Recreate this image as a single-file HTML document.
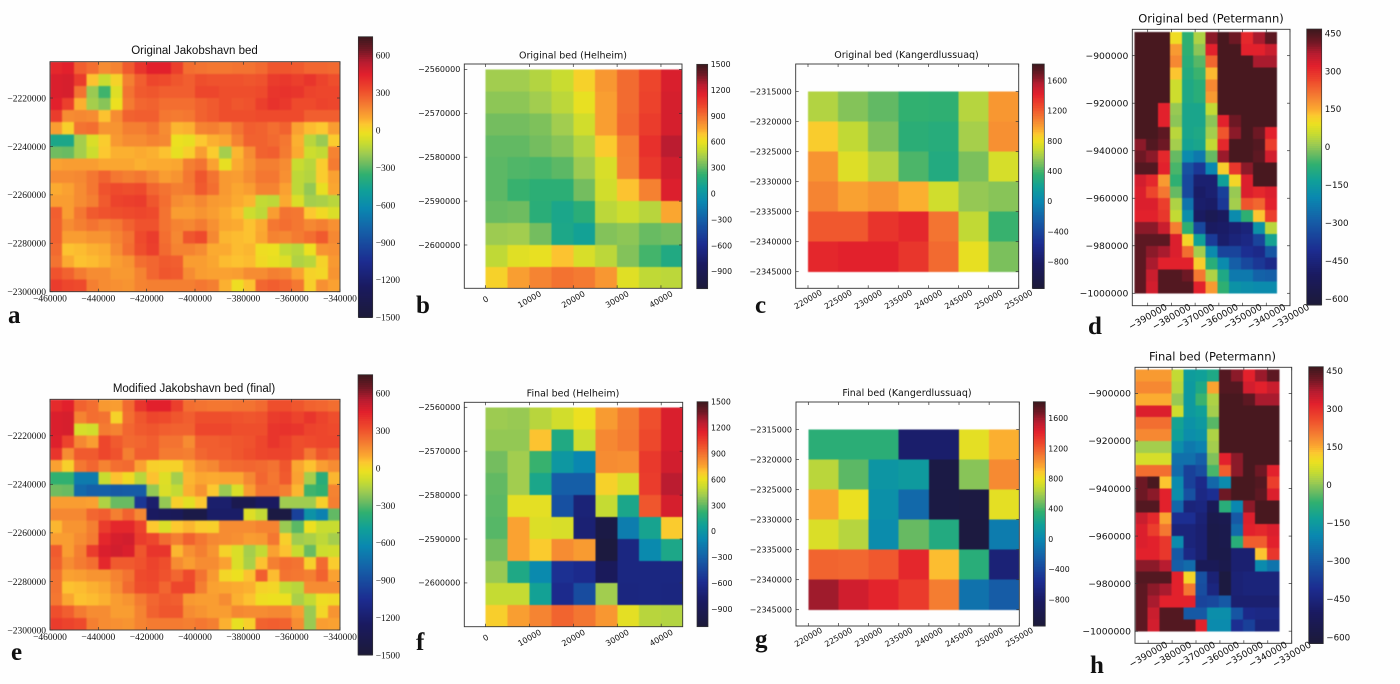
<!DOCTYPE html>
<html>
<head>
<meta charset="utf-8">
<title>Greenland bed topography panels</title>
<style>
html,body{margin:0;padding:0;background:#fff;}
svg{display:block;}
.ser{font-family:"Liberation Serif",serif;fill:#111;}
.san{font-family:"Liberation Sans",sans-serif;fill:#111;}
.dj{font-family:"DejaVu Sans",sans-serif;fill:#111;}
.let{font-family:"Liberation Serif",serif;font-weight:bold;font-size:25px;fill:#111;}
</style>
</head>
<body>
<svg id="fig" xmlns="http://www.w3.org/2000/svg" width="1400" height="684" viewBox="0 0 1400 684">
<defs>
<filter id="soft-strong" x="-5%" y="-5%" width="110%" height="110%" color-interpolation-filters="sRGB"><feGaussianBlur stdDeviation="0.8"/></filter>
<filter id="soft-light" x="-5%" y="-5%" width="110%" height="110%" color-interpolation-filters="sRGB"><feGaussianBlur stdDeviation="0.45"/></filter>
</defs>
<rect x="0" y="0" width="1400" height="684" fill="#fefefe"/>
<text class="san" font-size="11.5" text-anchor="middle" x="194.5" y="54">Original Jakobshavn bed</text>
<text class="san" font-size="11.5" text-anchor="middle" x="194" y="392">Modified Jakobshavn bed (final)</text>
<text class="dj" font-size="9.5" text-anchor="middle" x="573" y="58.5">Original bed (Helheim)</text>
<text class="dj" font-size="9.5" text-anchor="middle" x="573" y="396.5">Final bed (Helheim)</text>
<text class="dj" font-size="9.5" text-anchor="middle" x="906.5" y="58">Original bed (Kangerdlussuaq)</text>
<text class="dj" font-size="9.5" text-anchor="middle" x="907" y="396">Final bed (Kangerdlussuaq)</text>
<text class="dj" font-size="11.5" text-anchor="middle" x="1211" y="22.5">Original bed (Petermann)</text>
<text class="dj" font-size="11.5" text-anchor="middle" x="1212.5" y="360.5">Final bed (Petermann)</text>
<text class="let" x="8" y="323">a</text>
<text class="let" x="416" y="313">b</text>
<text class="let" x="755" y="313">c</text>
<text class="let" x="1088" y="334">d</text>
<text class="let" x="11" y="660">e</text>
<text class="let" x="416" y="650">f</text>
<text class="let" x="755" y="647">g</text>
<text class="let" x="1090" y="673">h</text>
</svg>
<script>
// ---- data: bed elevation in metres, one row per northing, one value per easting ----
var jakobOriginal = [
[430,450,280,240,170,190,290,390,450,450,360,240,230,220,220,230,230,250,300,300,290,260,260,250],
[470,480,370,60,-100,20,200,280,340,330,300,280,320,310,310,310,300,310,370,380,360,390,350,320],
[470,480,230,-190,-330,-50,230,290,300,280,280,280,340,340,320,320,320,330,390,400,390,350,340,340],
[450,360,90,-170,-220,-20,210,260,270,240,240,240,270,290,320,300,310,360,400,380,330,330,350,340],
[370,170,180,170,60,170,270,280,280,220,210,220,270,290,320,320,320,330,330,330,330,280,280,280],
[130,30,230,240,150,150,200,200,230,170,80,90,190,200,170,230,280,270,240,270,120,70,50,130],
[-430,-430,-170,-60,40,140,170,170,190,180,-20,-30,50,90,110,190,270,270,250,220,90,-130,-190,40],
[-260,-270,-170,-90,50,90,90,100,90,60,-30,30,130,40,-170,80,170,270,280,210,100,-90,-110,190],
[120,130,130,130,110,110,110,90,100,100,110,200,230,120,-30,100,150,200,200,170,-100,-130,40,210],
[170,170,180,220,270,220,200,220,180,130,150,220,300,230,140,130,170,220,220,160,-120,-140,40,120],
[100,120,170,220,310,330,320,330,260,230,200,210,290,240,140,110,130,190,190,120,-120,-200,-30,110],
[130,130,170,200,290,350,360,370,300,240,170,150,180,140,130,100,80,-110,-120,100,-60,-170,-160,-130],
[280,130,220,290,310,320,330,340,330,230,130,130,150,130,100,70,-90,-120,130,230,220,50,0,-60],
[270,170,200,230,200,220,270,310,310,230,190,180,210,160,110,100,60,100,220,240,220,180,200,160],
[270,130,130,150,150,190,230,330,370,240,180,300,330,180,80,70,60,110,190,180,210,240,290,180],
[250,60,70,90,100,170,240,320,360,250,190,190,170,100,100,70,80,-10,-20,-110,-130,-20,150,160],
[230,100,60,70,90,130,150,240,260,290,280,130,130,110,70,60,70,0,-30,-50,-150,-130,20,140],
[310,270,210,170,170,140,140,190,260,300,290,170,130,120,120,130,170,170,200,190,120,20,10,150],
[370,340,330,200,170,160,150,190,200,200,200,200,220,200,90,-10,60,260,280,260,220,30,160,120]
];
var jakobFinal = [
[420,450,270,240,140,130,250,390,450,450,360,240,230,220,220,230,230,250,320,320,300,270,260,240],
[470,480,190,240,230,20,240,300,340,330,300,280,320,320,320,310,300,310,370,380,350,390,350,320],
[470,480,-70,-80,210,190,260,290,300,280,270,270,340,340,340,320,320,320,390,400,390,350,340,330],
[460,350,180,130,340,290,250,260,280,230,230,170,280,280,290,300,310,340,390,360,320,330,340,340],
[390,170,290,290,340,310,200,280,280,210,210,200,260,280,280,300,320,340,350,350,320,220,300,270],
[120,30,220,260,190,240,250,120,30,20,20,100,160,180,240,250,260,250,230,300,110,60,130,170],
[-350,-350,-680,-680,-100,60,0,-130,60,-50,-170,80,110,100,110,110,180,260,220,290,120,-170,-380,80],
[-260,-270,-760,-800,-800,-830,-820,-820,-200,-60,-110,90,150,50,-190,-60,130,230,230,200,80,-330,-350,190],
[130,130,130,120,-150,-270,-270,-1000,-1200,-200,30,-40,50,-1200,-1200,-1350,-1350,-1250,-1250,-180,-180,-180,30,200],
[180,180,180,260,280,200,270,180,-1250,-1280,-1300,-1400,-1400,-1220,-1220,-1220,-50,-110,-1430,-1430,-950,-560,-650,-280],
[80,150,150,200,370,430,430,350,50,-60,50,80,40,30,170,170,170,190,190,-190,-290,-20,-100,-100],
[130,130,170,210,430,480,490,370,340,250,200,270,220,180,170,160,130,140,220,30,-180,-160,-120,-170],
[290,130,200,370,470,490,470,300,390,390,80,160,200,150,20,-60,-170,-110,120,60,-100,-270,-90,-80],
[270,170,210,240,430,290,290,310,350,320,170,130,170,170,120,-60,-160,60,200,240,230,30,250,40],
[230,120,130,150,150,190,230,330,340,310,260,330,230,140,10,-20,60,280,70,230,220,200,270,120],
[230,60,70,90,110,170,250,320,330,260,340,340,200,120,110,100,90,20,10,-110,-130,170,170,170],
[220,110,60,70,90,130,150,210,260,290,280,140,130,130,170,90,60,-10,-20,-20,-160,-110,-10,0],
[320,280,210,170,170,130,130,190,270,300,300,170,150,130,130,180,170,170,180,180,130,-190,10,150],
[370,350,330,200,170,160,150,190,210,210,210,200,220,200,90,-30,30,270,280,270,170,-190,130,120]
];
var helOriginal = [
[430,430,470,520,660,800,920,1030,1180],
[390,390,430,490,600,780,920,1040,1190],
[340,340,360,430,540,780,930,1060,1190],
[310,310,340,380,470,680,860,1100,1260],
[300,280,270,300,420,560,850,1070,1200],
[300,240,210,210,340,540,700,860,1170],
[320,330,200,130,200,490,530,480,760],
[420,430,340,140,90,370,390,320,340],
[500,580,600,700,560,490,370,260,160],
[660,780,850,900,880,800,580,500,490]
];
var helFinal = [
[420,410,480,540,610,790,870,1000,1180],
[400,400,700,160,530,840,880,1020,1180],
[340,430,240,20,-90,830,820,1070,1200],
[310,430,130,-300,-300,660,550,1060,1260],
[300,590,590,-380,-700,510,130,980,1190],
[290,770,570,560,-720,-1000,-140,110,680],
[340,770,680,830,790,-1050,-650,-70,140],
[410,150,-70,-560,-600,-850,-650,-650,-650],
[510,510,90,-600,-400,430,-660,-650,-660],
[670,780,850,940,890,800,590,480,470]
];
var kanOriginal = [
[640,530,460,370,360,650,1020],
[880,680,520,340,320,610,1040],
[1030,760,640,420,300,510,740],
[1080,990,1030,950,720,570,540],
[1220,1220,1350,1400,1130,680,380],
[1400,1420,1420,1340,1160,790,510]
];
var kanFinal = [
[340,340,340,-760,-760,780,950],
[660,450,110,150,-1040,540,1060],
[980,800,70,-170,-1050,-1070,780],
[750,650,40,470,300,-1080,-60],
[1180,1170,1220,1400,920,330,-700],
[1600,1480,1410,1320,1100,-120,-250]
];
var petOriginal = [
[455,455,455,100,-70,30,400,455,420,310,380,435],
[455,455,455,170,-70,0,320,455,455,320,320,350],
[455,455,455,190,-80,-40,230,455,455,455,380,380],
[455,455,455,130,-90,-60,140,455,455,455,455,455],
[455,455,455,60,-100,-80,190,455,455,455,455,455],
[455,455,455,60,-100,-80,170,455,455,455,455,455],
[455,455,320,10,-110,-110,50,455,455,455,455,455],
[455,455,320,0,-110,-110,0,320,420,455,455,455],
[455,455,435,40,-110,-100,20,250,400,455,420,320],
[400,445,420,20,-120,-110,50,310,455,455,445,280],
[420,400,310,-30,-190,-230,-30,390,455,455,435,340],
[445,445,320,-50,-320,-380,-200,120,290,400,455,455],
[340,310,170,-70,-340,-470,-470,-130,110,330,455,455],
[330,270,210,-30,-340,-490,-470,-360,10,330,310,330],
[330,330,280,30,-240,-480,-490,-380,20,250,230,320],
[320,320,290,50,-180,-500,-540,-510,-190,-70,130,280],
[400,400,350,200,-70,-340,-500,-490,-470,-450,-170,40],
[435,435,435,330,110,-130,-370,-480,-450,-430,-350,-120],
[435,400,380,330,220,20,-190,-350,-350,-400,-420,-310],
[435,380,320,320,320,120,-80,-190,-290,-340,-380,-420],
[435,350,445,445,420,210,30,-100,-230,-230,-280,-290],
[435,340,445,445,445,320,170,-70,-170,-180,-190,-190]
];
var petFinal = [
[170,170,170,50,-140,-130,-100,445,400,320,390,435],
[190,190,190,40,-150,-100,160,445,445,340,320,350],
[150,150,150,10,-150,-60,30,455,455,435,380,380],
[330,330,330,60,-150,-130,20,455,455,455,455,455],
[220,220,220,-120,-170,-150,-40,455,455,455,455,455],
[190,190,190,-130,-180,-170,30,455,455,455,455,455],
[20,20,20,-180,-230,-210,20,455,455,455,455,455],
[70,70,70,-250,-250,-290,-10,320,400,455,455,455],
[220,220,220,-260,-360,-330,-50,240,400,455,420,320],
[420,455,130,-190,-360,-420,-270,-190,455,455,445,280],
[420,400,320,-180,-320,-430,-400,420,455,455,435,330],
[445,445,320,-270,-450,-440,-530,-80,-200,400,455,455],
[350,310,160,-400,-400,-460,-560,-550,-300,330,455,455],
[330,280,210,-450,-450,-470,-570,-560,-260,320,310,330],
[330,320,290,-190,-450,-470,-570,-560,-80,240,240,320],
[320,320,290,-300,-430,-470,-570,-570,-470,-470,130,290],
[400,400,370,-290,-260,-530,-530,-560,-470,-470,-190,-240],
[445,445,445,320,110,-320,-460,-600,-460,-450,-450,-450],
[435,400,380,320,210,-330,-440,-600,-460,-450,-450,-450],
[435,380,320,320,320,-350,-340,-300,-470,-470,-470,-470],
[435,350,445,445,-300,-300,-180,-180,-310,-420,-430,-430],
[435,340,445,445,445,320,-190,-190,-400,-360,-450,-450]
];
// ---- tick labels ----
var jakobXTicks = [-460000,-440000,-420000,-400000,-380000,-360000,-340000];
var jakobYTicks = [-2220000,-2240000,-2260000,-2280000,-2300000];
var jakobBarTicks = [-1500,-1200,-900,-600,-300,0,300,600];
var helXTicks = [0,10000,20000,30000,40000];
var helYTicks = [-2560000,-2570000,-2580000,-2590000,-2600000];
var helBarTicks = [-900,-600,-300,0,300,600,900,1200,1500];
var kanXTicks = [220000,225000,230000,235000,240000,245000,250000,255000];
var kanYTicks = [-2315000,-2320000,-2325000,-2330000,-2335000,-2340000,-2345000];
var kanBarTicks = [-800,-400,0,400,800,1200,1600];
var petXTicks = [-390000,-380000,-370000,-360000,-350000,-340000,-330000];
var petYTicks = [-900000,-920000,-940000,-960000,-980000,-1000000];
var petBarTicks = [-600,-450,-300,-150,0,150,300,450];
// ---- colour ramp: position, rgb ----
var rampPositions = [0,.111,.2,.311,.391,.453,.511,.551,.587,.622,.658,.689,.711,.742,.778,.813,.867,.911,.956,1];
var rampColors = [[28,26,56],[26,26,96],[28,44,144],[21,96,168],[10,136,176],[16,160,152],[48,176,112],[112,188,96],[160,204,80],[200,220,48],[236,224,32],[252,200,48],[251,170,48],[246,140,50],[242,106,48],[238,74,44],[226,32,44],[184,28,48],[110,24,36],[60,24,30]];

function ramp(t){
  t = Math.max(0, Math.min(1, t));
  for (var i = 1; i < rampPositions.length; i++) {
    if (t <= rampPositions[i]) {
      var f = (t - rampPositions[i-1]) / (rampPositions[i] - rampPositions[i-1]);
      var a = rampColors[i-1], b = rampColors[i];
      return 'rgb(' + Math.round(a[0]+(b[0]-a[0])*f) + ',' + Math.round(a[1]+(b[1]-a[1])*f) + ',' + Math.round(a[2]+(b[2]-a[2])*f) + ')';
    }
  }
  return 'rgb(60,24,30)';
}
function linear(d0, d1, r0, r1){
  return function(v){ return r0 + (v - d0) * (r1 - r0) / (d1 - d0); };
}
function fmt(v){ return String(v).replace('-', '\u2212'); }

var NS = 'http://www.w3.org/2000/svg';
var fig = document.getElementById('fig');
function mk(tag, parent, attrs){
  var e = document.createElementNS(NS, tag);
  for (var k in attrs) e.setAttribute(k, attrs[k]);
  parent.appendChild(e);
  return e;
}

// layout of each panel: frame box, axis domain, cell origin and size, colourbar box and range
var panels = [
 {id:'a',grid:jakobOriginal,soft:'soft-strong',box:[50,61.7,340,291.7],dx:[-460000,-340000],dy:[-2205000,-2300000],x0:-460000,y0:-2205000,cw:5000,ch:5000,xt:jakobXTicks,yt:jakobYTicks,bar:[358.3,36.7,372.7,317.3],rng:[-1500,750],bt:jakobBarTicks,style:'ser',fs:9.5,bfs:9.5,rot:0},
 {id:'e',grid:jakobFinal,soft:'soft-strong',box:[50,399.3,340,630],dx:[-460000,-340000],dy:[-2205000,-2300000],x0:-460000,y0:-2205000,cw:5000,ch:5000,xt:jakobXTicks,yt:jakobYTicks,bar:[358,374.7,372.7,655],rng:[-1500,750],bt:jakobBarTicks,style:'ser',fs:9.5,bfs:9.5,rot:0},
 {id:'b',grid:helOriginal,soft:'soft-light',box:[464.3,64,682,288.3],dx:[-4860,44800],dy:[-2558760,-2609870],x0:0,y0:-2560000,cw:5000,ch:5000,xt:helXTicks,yt:helYTicks,bar:[696.7,64.3,707.7,288.7],rng:[-1100,1500],bt:helBarTicks,style:'dj',fs:8,bfs:7.8,rot:-30},
 {id:'f',grid:helFinal,soft:'soft-light',box:[464.3,402.3,682.7,626.7],dx:[-4860,44900],dy:[-2558860,-2609970],x0:0,y0:-2560000,cw:5000,ch:5000,xt:helXTicks,yt:helYTicks,bar:[697,401.7,708,626.7],rng:[-1100,1500],bt:helBarTicks,style:'dj',fs:8,bfs:7.8,rot:-30},
 {id:'c',grid:kanOriginal,soft:'soft-light',box:[795.7,64,1018.7,288.3],dx:[217957,255000],dy:[-2310390,-2347770],x0:220000,y0:-2315000,cw:5000,ch:5000,xt:kanXTicks,yt:kanYTicks,bar:[1032.3,64,1044.3,288.3],rng:[-1150,1820],bt:kanBarTicks,style:'dj',fs:8,bfs:7.8,rot:-30},
 {id:'g',grid:kanFinal,soft:'soft-light',box:[796,402,1019.3,626],dx:[217957,255000],dy:[-2310390,-2347720],x0:220000,y0:-2315000,cw:5000,ch:5000,xt:kanXTicks,yt:kanYTicks,bar:[1033.3,401.7,1045.3,626],rng:[-1150,1820],bt:kanBarTicks,style:'dj',fs:8,bfs:7.8,rot:-30},
 {id:'d',grid:petOriginal,soft:'soft-light',box:[1132.3,29.3,1290,305.7],dx:[-396490,-330000],dy:[-888900,-1005220],x0:-395640,y0:-890000,cw:5000,ch:5000,xt:petXTicks,yt:petYTicks,bar:[1306.7,29,1321.7,305],rng:[-624,467],bt:petBarTicks,style:'dj',fs:9.2,bfs:8.7,rot:-30},
 {id:'h',grid:petFinal,soft:'soft-light',box:[1135,367.3,1291.7,643.3],dx:[-395500,-330000],dy:[-889000,-1005100],x0:-395300,y0:-890000,cw:5000,ch:5000,xt:petXTicks,yt:petYTicks,bar:[1308.7,366.7,1323.3,643.3],rng:[-624,467],bt:petBarTicks,style:'dj',fs:9.2,bfs:8.7,rot:-30}
];

panels.forEach(function(p){
  var L = p.box[0], T = p.box[1], R = p.box[2], B = p.box[3];
  var xs = linear(p.dx[0], p.dx[1], L, R);
  var ys = linear(p.dy[0], p.dy[1], T, B);
  var cs = linear(p.rng[0], p.rng[1], 0, 1);

  var g = mk('g', fig, {});
  
  

  var clip = mk('clipPath', g, {id:'clip-' + p.id});
  mk('rect', clip, {x:L, y:T, width:R-L, height:B-T});

  var clipped = mk('g', g, {'clip-path':'url(#clip-' + p.id + ')'});
  
  
  var cells = mk('g', clipped, {filter:'url(#' + p.soft + ')', 'shape-rendering':'crispEdges'});
  
  
  p.grid.forEach(function(row, j){
    row.forEach(function(v, i){
      var x1 = xs(p.x0 + i * p.cw), x2 = xs(p.x0 + (i + 1) * p.cw);
      var y1 = ys(p.y0 - j * p.ch), y2 = ys(p.y0 - (j + 1) * p.ch);
      var c = mk('rect', cells, {x:x1, y:y1, width:x2-x1+0.4, height:y2-y1+0.4, fill:ramp(cs(v))});
      
      
    });
  });

  var frame = mk('rect', g, {x:L, y:T, width:R-L, height:B-T, fill:'none', stroke:'#333', 'stroke-width':0.9});
  
  

  p.xt.forEach(function(v){
    var x = xs(v);
    [[B, B-3],[T, T+3]].forEach(function(s){
      var t = mk('line', g, {x1:x, x2:x, y1:s[0], y2:s[1], stroke:'#333', 'stroke-width':0.7});
      
      
    });
    var lab;
    if (p.rot) {
      lab = mk('text', g, {'class':p.style, 'font-size':p.fs, 'text-anchor':'middle', x:x, y:B+11, dy:'0.35em', transform:'rotate(' + p.rot + ' ' + x + ' ' + (B+11) + ')'});
    } else {
      lab = mk('text', g, {'class':p.style, 'font-size':p.fs, 'text-anchor':'middle', x:x, y:B+10});
    }
    lab.textContent = fmt(v);
    
    
  });

  p.yt.forEach(function(v){
    var y = ys(v);
    [[L, L+3],[R, R-3]].forEach(function(s){
      var t = mk('line', g, {x1:s[0], x2:s[1], y1:y, y2:y, stroke:'#333', 'stroke-width':0.7});
      
      
    });
    var lab = mk('text', g, {'class':p.style, 'font-size':p.fs, 'text-anchor':'end', x:L-4, y:y, dy:'0.35em'});
    lab.textContent = fmt(v);
    
    
  });

  var bar = mk('g', g, {'shape-rendering':'crispEdges'});
  
  
  var bL = p.bar[0], bT = p.bar[1], bR = p.bar[2], bB = p.bar[3];
  var by = linear(p.rng[0], p.rng[1], bB, bT);
  var steps = 140;
  for (var s = 0; s < steps; s++) {
    var v0 = p.rng[0] + (p.rng[1] - p.rng[0]) * s / steps;
    var v1 = p.rng[0] + (p.rng[1] - p.rng[0]) * (s + 1) / steps;
    var seg = mk('rect', bar, {x:bL, y:by(v1), width:bR-bL, height:by(v0)-by(v1)+0.5, fill:ramp(cs((v0+v1)/2))});
    
    
  }
  var barFrame = mk('rect', g, {x:bL, y:bT, width:bR-bL, height:bB-bT, fill:'none', stroke:'#333', 'stroke-width':0.7});
  
  

  p.bt.forEach(function(v){
    var lab = mk('text', g, {'class':p.style, 'font-size':p.bfs, x:bR+3, y:by(v), dy:'0.35em'});
    lab.textContent = fmt(v);
    
    
  });
});
</script>
</body>
</html>
